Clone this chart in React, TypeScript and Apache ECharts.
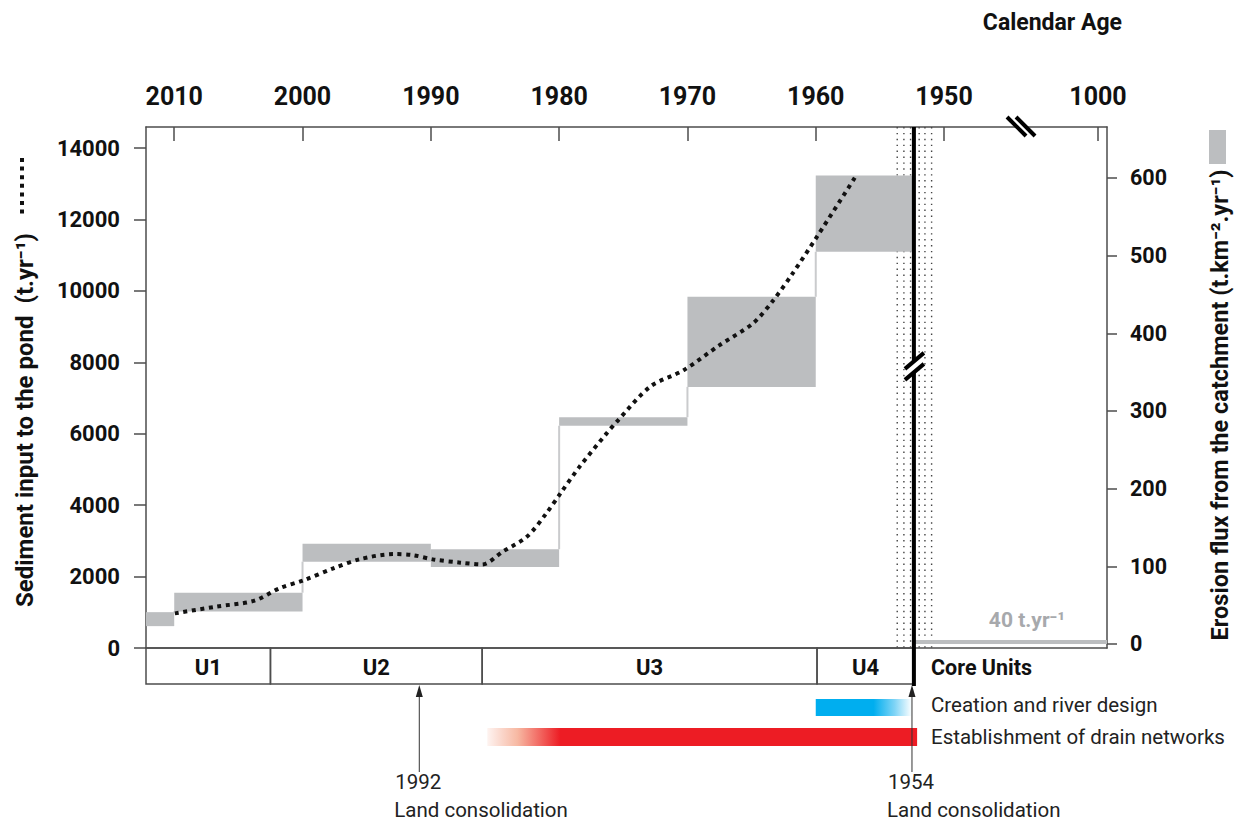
import React, { useEffect, useRef } from 'react';
import * as echarts from 'echarts';

const FONT = 'Roboto, "Liberation Sans", "DejaVu Sans", sans-serif';
const FRAME = '#4d4d4d';
const BOX_GRAY = '#bcbec0';

// x axis in (age-model) calendar years, drawn right-to-left
const X_MIN = 1937.3;
const X_MAX = 2012.2;
const topTickYears = [2010, 2000, 1990, 1980, 1970, 1960, 1950, 1938];
const topTickLabels = ['2010', '2000', '1990', '1980', '1970', '1960', '1950', '1000'];
const axisBreakYear = 1944.0;

const leftTicks = [0, 2000, 4000, 6000, 8000, 10000, 12000, 14000];
const rightTicks = [0, 100, 200, 300, 400, 500, 600];

// erosion flux boxes (t.km-2.yr-1)
const boxStart = [2012.2, 2010, 2000, 1990, 1980, 1970, 1960, 1952.35];
const boxEnd = [2010, 2000, 1990, 1980, 1970, 1960, 1952.35, 1937.3];
const fluxLow = [23, 42, 106, 99, 281, 331, 505, 0];
const fluxHigh = [41, 66, 129, 122, 292, 447, 603, 5];

// sediment input to the pond (t.yr-1)
const sedYears = [2009.95, 2006.7, 2003.8, 2001.8, 1999.9, 1997.6, 1995.5, 1992.9, 1991.4, 1989.8, 1987.7, 1986.0, 1984.4, 1982.5, 1981.0, 1979.9, 1978.4, 1976.3, 1975.5, 1972.9, 1970.3, 1967.5, 1964.9, 1963.3, 1961.8, 1959.9, 1956.9];
const sedValues = [970, 1160, 1320, 1670, 1900, 2230, 2490, 2630, 2600, 2480, 2390, 2340, 2700, 3120, 3770, 4330, 5080, 6010, 6340, 7320, 7780, 8480, 9090, 9740, 10490, 11520, 13200];

// 1954 boundary
const boundaryYear = 1952.35;
const bandColumnYears = [1953.65, 1953.13, 1952.61, 1951.94, 1951.49, 1950.97];
const boundaryBreakValue = 7900;

// core units
const unitBounds = [2012.2, 2002.5, 1986.0, 1959.9, 1952.35];
const unitNames = ['U1', 'U2', 'U3', 'U4'];

// management periods
const periodNames = ['Creation and river design', 'Establishment of drain networks'];
const periodStart = [1960, 1985.6];
const periodEnd = [1952.5, 1952.1];

// land consolidation events
const consolidationPos = [1990.9, 1952.5];
const consolidationLabels = ['1992', '1954'];

const lineStyleFrame = { color: FRAME, width: 1.5 };

function buildOption() {
  const boxData = boxStart.map((s, i) => [s, boxEnd[i], fluxLow[i], fluxHigh[i]]);
  const sedData = sedYears.map((y, i) => [y, sedValues[i]]);

  return {
    animation: false,
    backgroundColor: '#ffffff',
    grid: { left: 146, right: 133, top: 127, bottom: 175, containLabel: false },
    xAxis: [
      {
        type: 'value', position: 'top', min: X_MIN, max: X_MAX, inverse: true,
        axisLine: { show: true, onZero: false, lineStyle: lineStyleFrame },
        axisTick: { show: true, inside: true, length: 14, customValues: topTickYears, lineStyle: lineStyleFrame },
        axisLabel: {
          show: true, customValues: topTickYears, margin: 18,
          formatter: (v: number) => { const k = topTickYears.indexOf(v); return k >= 0 ? topTickLabels[k] : ''; },
          fontSize: 25, fontWeight: 'bold', fontFamily: FONT, color: '#111',
        },
        splitLine: { show: false },
      },
      {
        type: 'value', position: 'bottom', min: X_MIN, max: X_MAX, inverse: true,
        axisLine: { show: true, onZero: false, lineStyle: lineStyleFrame },
        axisTick: { show: false }, axisLabel: { show: false }, splitLine: { show: false },
      },
    ],
    yAxis: [
      {
        type: 'value', position: 'left', min: 0, max: 14590,
        axisLine: { show: true, onZero: false, lineStyle: lineStyleFrame },
        axisTick: { show: true, length: 12, customValues: leftTicks, lineStyle: lineStyleFrame },
        axisLabel: { customValues: leftTicks, margin: 26, formatter: (v: number) => String(v), fontSize: 22, fontWeight: 'bold', fontFamily: FONT, color: '#111' },
        splitLine: { show: false },
      },
      {
        type: 'value', position: 'right', min: -5.15, max: 665.6,
        axisLine: { show: true, onZero: false, lineStyle: lineStyleFrame },
        axisTick: { show: true, length: 10, customValues: rightTicks, lineStyle: lineStyleFrame },
        axisLabel: { customValues: rightTicks, margin: 23, formatter: (v: number) => String(v), fontSize: 21.5, fontWeight: 'bold', fontFamily: FONT, color: '#111' },
        splitLine: { show: false },
      },
    ],
    series: [
      // dotted uncertainty band around the 1954 boundary
      {
        type: 'custom', name: 'band', xAxisIndex: 0, yAxisIndex: 0, z: 1, silent: true, clip: false,
        data: bandColumnYears.map((y) => [y, 0]),
        renderItem: (params: any, api: any) => {
          const x = api.coord([api.value(0), 0])[0];
          const top = params.coordSys.y;
          const bottom = params.coordSys.y + params.coordSys.height;
          return { type: 'line', shape: { x1: x, y1: top, x2: x, y2: bottom }, style: { stroke: '#444', lineWidth: 1.4, lineDash: [1.4, 4.5] } };
        },
      },
      // erosion flux boxes
      {
        type: 'custom', name: 'flux', xAxisIndex: 0, yAxisIndex: 1, z: 2, silent: true, clip: false,
        data: boxData,
        renderItem: (params: any, api: any) => {
          const i = params.dataIndex;
          const a = api.coord([api.value(0), api.value(3)]);
          const b = api.coord([api.value(1), api.value(2)]);
          const children: any[] = [
            { type: 'rect', shape: { x: Math.min(a[0], b[0]), y: a[1], width: Math.abs(b[0] - a[0]), height: b[1] - a[1] }, style: { fill: BOX_GRAY } },
          ];
          if (i > 0 && fluxLow[i] > fluxHigh[i - 1]) {
            const p = api.coord([api.value(0), fluxHigh[i - 1]]);
            children.push({ type: 'line', shape: { x1: a[0], y1: p[1], x2: a[0], y2: b[1] }, style: { stroke: '#cacbcd', lineWidth: 2 } });
          }
          return { type: 'group', children };
        },
      },
      // sediment input line
      {
        type: 'line', name: 'sediment', xAxisIndex: 0, yAxisIndex: 0, z: 3, data: sedData,
        smooth: 0.3, showSymbol: false, symbol: 'none', silent: true,
        lineStyle: { color: '#111', width: 4, type: [4, 4.6], cap: 'butt' },
      },
      // 1954 boundary line with break
      {
        type: 'custom', name: 'boundary', xAxisIndex: 0, yAxisIndex: 0, z: 5, silent: true, clip: false,
        data: [[boundaryYear, boundaryBreakValue]],
        renderItem: (params: any, api: any) => {
          const x = api.coord([api.value(0), 0])[0];
          const top = params.coordSys.y;
          const bottom = params.coordSys.y + params.coordSys.height;
          const yb = api.coord([api.value(0), api.value(1)])[1];
          return {
            type: 'group',
            children: [
              { type: 'line', shape: { x1: x, y1: top, x2: x, y2: bottom + 38 }, style: { stroke: '#000', lineWidth: 4 } },
              { type: 'line', shape: { x1: x - 9, y1: yb + 9, x2: x + 10, y2: yb - 7 }, style: { stroke: '#fff', lineWidth: 7 } },
              { type: 'line', shape: { x1: x - 9, y1: yb + 3, x2: x + 10, y2: yb - 13 }, style: { stroke: '#000', lineWidth: 4 } },
              { type: 'line', shape: { x1: x - 9, y1: yb + 14, x2: x + 10, y2: yb - 2 }, style: { stroke: '#000', lineWidth: 4 } },
            ],
          };
        },
      },
      // top axis break
      {
        type: 'custom', name: 'axisbreak', xAxisIndex: 0, yAxisIndex: 0, z: 6, silent: true, clip: false,
        data: [[axisBreakYear, 0]],
        renderItem: (params: any, api: any) => {
          const x = api.coord([api.value(0), 0])[0];
          const y = params.coordSys.y;
          return {
            type: 'group',
            children: [
              { type: 'line', shape: { x1: x - 10, y1: y - 9, x2: x + 9, y2: y + 9 }, style: { stroke: '#fff', lineWidth: 6 } },
              { type: 'line', shape: { x1: x - 14, y1: y - 10, x2: x + 5, y2: y + 9 }, style: { stroke: '#000', lineWidth: 4 } },
              { type: 'line', shape: { x1: x - 5, y1: y - 10, x2: x + 14, y2: y + 9 }, style: { stroke: '#000', lineWidth: 4 } },
            ],
          };
        },
      },
      // core units
      {
        type: 'custom', name: 'units', xAxisIndex: 0, yAxisIndex: 0, z: 4, silent: true, clip: false,
        data: unitNames.map((_, i) => [unitBounds[i], unitBounds[i + 1]]),
        renderItem: (params: any, api: any) => {
          const i = params.dataIndex;
          const x0 = api.coord([api.value(0), 0])[0];
          const x1 = api.coord([api.value(1), 0])[0];
          const yb = params.coordSys.y + params.coordSys.height;
          return {
            type: 'group',
            children: [
              { type: 'rect', shape: { x: x0, y: yb, width: x1 - x0, height: 36 }, style: { fill: 'none', stroke: FRAME, lineWidth: 1.5 } },
              { type: 'text', x: (x0 + x1) / 2, y: yb + 19, style: { text: unitNames[i], align: 'center', verticalAlign: 'middle', fontSize: 22, fontWeight: 'bold', fontFamily: FONT, fill: '#111' } },
            ],
          };
        },
      },
      // management periods (bars)
      {
        type: 'custom', name: 'periods', xAxisIndex: 0, yAxisIndex: 0, z: 4, silent: true, clip: false,
        data: periodNames.map((_, i) => [periodStart[i], periodEnd[i]]),
        renderItem: (params: any, api: any) => {
          const i = params.dataIndex;
          const x0 = api.coord([api.value(0), 0])[0];
          const x1 = api.coord([api.value(1), 0])[0];
          const yb = params.coordSys.y + params.coordSys.height;
          const fill = i === 0
            ? new echarts.graphic.LinearGradient(0, 0, 1, 0, [
                { offset: 0, color: '#00aeef' }, { offset: 0.6, color: '#00aeef' },
                { offset: 0.82, color: '#7fd4f6' }, { offset: 1, color: '#ffffff' }])
            : new echarts.graphic.LinearGradient(0, 0, 1, 0, [
                { offset: 0, color: 'rgba(247,180,160,0.15)' }, { offset: 0.07, color: '#f7b9a3' },
                { offset: 0.17, color: '#ed1c24' }, { offset: 1, color: '#ed1c24' }]);
          const yTop = i === 0 ? yb + 51 : yb + 80;
          const h = i === 0 ? 17 : 18;
          return {
            type: 'group',
            children: [
              { type: 'rect', shape: { x: x0, y: yTop, width: x1 - x0, height: h }, style: { fill } },
            ],
          };
        },
      },
      // land consolidation arrows
      {
        type: 'custom', name: 'consolidation', xAxisIndex: 0, yAxisIndex: 0, z: 6, silent: true, clip: false,
        data: consolidationPos.map((p) => [p, 0]),
        renderItem: (params: any, api: any) => {
          const i = params.dataIndex;
          const x = api.coord([api.value(0), 0])[0];
          const yb = params.coordSys.y + params.coordSys.height;
          const txt = { fontSize: 20.5, fontFamily: FONT, fill: '#222', align: 'left', verticalAlign: 'middle' };
          return {
            type: 'group',
            children: [
              { type: 'line', shape: { x1: x, y1: yb + 47, x2: x, y2: yb + 124 }, style: { stroke: '#333', lineWidth: 1 } },
              { type: 'polygon', shape: { points: [[x, yb + 37], [x - 3.5, yb + 49], [x + 3.5, yb + 49]] }, style: { fill: '#222' } },
              { type: 'text', x: x - 24, y: yb + 134, style: { ...txt, text: consolidationLabels[i] } },
              { type: 'text', x: x - 25, y: yb + 162, style: { ...txt, text: 'Land consolidation' } },
            ],
          };
        },
      },
    ],
    graphic: [
      { type: 'text', x: 25, y: 420, rotation: Math.PI / 2, style: { text: 'Sediment input to the pond  (t.yr⁻¹)', align: 'center', verticalAlign: 'middle', fontSize: 24, fontWeight: 'bold', fontFamily: FONT, fill: '#111' } },
      { type: 'line', shape: { x1: 22, y1: 158, x2: 22, y2: 214 }, style: { stroke: '#111', lineWidth: 4, lineDash: [4, 4.6] } },
      { type: 'text', x: 1220, y: 405, rotation: Math.PI / 2, style: { text: 'Erosion flux from the catchment (t.km⁻².yr⁻¹)', align: 'center', verticalAlign: 'middle', fontSize: 23.5, fontWeight: 'bold', fontFamily: FONT, fill: '#111' } },
      { type: 'rect', shape: { x: 1209, y: 130, width: 17, height: 34 }, style: { fill: BOX_GRAY } },
      { type: 'text', x: 1122, y: 22, style: { text: 'Calendar Age', align: 'right', verticalAlign: 'middle', fontSize: 23, fontWeight: 'bold', fontFamily: FONT, fill: '#111' } },
      { type: 'text', x: 931, y: 667, style: { text: 'Core Units', align: 'left', verticalAlign: 'middle', fontSize: 21.5, fontWeight: 'bold', fontFamily: FONT, fill: '#111' } },
      { type: 'text', x: 931, y: 705, style: { text: periodNames[0], align: 'left', verticalAlign: 'middle', fontSize: 20.5, fontFamily: FONT, fill: '#222' } },
      { type: 'text', x: 931, y: 737, style: { text: periodNames[1], align: 'left', verticalAlign: 'middle', fontSize: 20.5, fontFamily: FONT, fill: '#222' } },
      { type: 'text', x: 1027, y: 620, style: { text: '40 t.yr⁻¹', align: 'center', verticalAlign: 'middle', fontSize: 21, fontWeight: 'bold', fontFamily: FONT, fill: '#a7a9ac' } },
    ],
  };
}

export default function App() {
  const ref = useRef<HTMLDivElement>(null);
  useEffect(() => {
    if (!ref.current) return;
    const chart = echarts.init(ref.current, undefined, { renderer: 'svg' });
    chart.setOption(buildOption() as any);
    return () => chart.dispose();
  }, []);
  return <div ref={ref} style={{ position: 'absolute', left: 0, top: 0, width: 1240, height: 823, background: '#fff' }} />;
}
